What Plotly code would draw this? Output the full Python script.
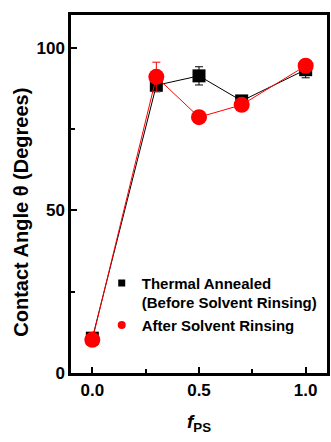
import plotly.graph_objects as go

f_ps = [0.0, 0.3, 0.5, 0.7, 1.0]
thermal = [10.7, 88.4, 91.3, 83.6, 93.2]
thermal_err = [1.0, 2.0, 2.8, 1.5, 2.5]
rinsed = [10.2, 91.0, 78.6, 82.4, 94.4]
rinsed_err = [0.8, 4.5, 0.8, 1.5, 1.5]

x_ticks = [0.0, 0.5, 1.0]
x_ticklabels = ["0.0", "0.5", "1.0"]
y_ticks = [0, 50, 100]

font = "Liberation Sans, Arial, sans-serif"
fig = go.Figure()

fig.add_trace(go.Scatter(
    x=f_ps, y=thermal, mode="lines+markers",
    line=dict(color="black", width=1),
    marker=dict(symbol="square", size=13, color="black"),
    error_y=dict(type="data", array=thermal_err, color="black", thickness=1, width=4),
    showlegend=False))
fig.add_trace(go.Scatter(
    x=f_ps, y=rinsed, mode="lines+markers",
    line=dict(color="red", width=1),
    marker=dict(symbol="circle", size=16, color="red"),
    error_y=dict(type="data", array=rinsed_err, color="red", thickness=1, width=4),
    showlegend=False))

fig.add_trace(go.Scatter(
    x=[None], y=[None], mode="markers",
    marker=dict(symbol="square", size=7, color="black"),
    name="Thermal Annealed<br>(Before Solvent Rinsing)"))
fig.add_trace(go.Scatter(
    x=[None], y=[None], mode="markers",
    marker=dict(symbol="circle", size=8, color="red"),
    name="After Solvent Rinsing"))

fig.add_annotation(
    text="<b>Contact Angle θ (Degrees)</b>", textangle=-90,
    xref="paper", yref="paper", x=-0.195, y=0.448,
    xanchor="center", yanchor="middle", showarrow=False,
    font=dict(size=20, family=font, color="black"))

fig.update_layout(
    width=331, height=442,
    margin=dict(l=71, r=1, t=15, b=69),
    paper_bgcolor="white", plot_bgcolor="white",
    font=dict(family=font, color="black"),
    legend=dict(x=0.12, y=0.297, xanchor="left", yanchor="top",
                bgcolor="rgba(0,0,0,0)", valign="top",
                font=dict(size=15, family=font, weight="bold"),
                itemwidth=30, tracegroupgap=0),
    xaxis=dict(range=[-0.1, 1.1], tickvals=x_ticks, ticktext=x_ticklabels,
               ticks="inside", ticklen=6, tickwidth=2, tickcolor="black",
               showline=True, linewidth=2.5, linecolor="black", mirror=True,
               showgrid=False, zeroline=False,
               tickfont=dict(size=17, family=font, weight="bold"),
               minor=dict(tickvals=[0.25, 0.75], ticks="inside", ticklen=4, tickwidth=2, tickcolor="black"),
               title=dict(text="<b><i>f</i></b><sub><b>PS</b></sub>", font=dict(size=19, family=font), standoff=16)),
    yaxis=dict(range=[0, 110], tickvals=y_ticks,
               ticks="inside", ticklen=6, tickwidth=2, tickcolor="black",
               showline=True, linewidth=2.5, linecolor="black", mirror=True,
               showgrid=False, zeroline=False,
               tickfont=dict(size=17, family=font, weight="bold"),
               minor=dict(tickvals=[25, 75], ticks="inside", ticklen=4, tickwidth=2, tickcolor="black")),
)

fig.write_html("out.html")
